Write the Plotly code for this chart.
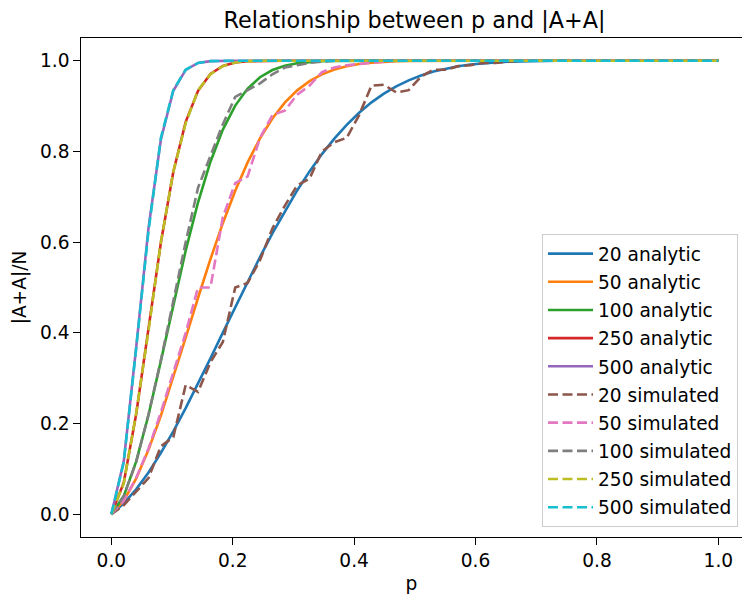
import numpy as np
import plotly.graph_objects as go

# sampling grid of p (50 evenly spaced samples on [0, 1])
p = np.linspace(0, 1, 50)

# analytic curves |A+A|/N
analytic_20 = [0, 0.0241, 0.0551, 0.0924, 0.1353, 0.1828, 0.2340, 0.2880, 0.3439, 0.4006,
               0.4573, 0.5131, 0.5673, 0.6191, 0.6681, 0.7139, 0.7559, 0.7941, 0.8283, 0.8587,
               0.8852, 0.9081, 0.9274, 0.9435, 0.9567, 0.9675, 0.9761, 0.9827, 0.9878, 0.9916,
               0.9943, 0.9963, 0.9977, 0.9986, 0.9992, 0.9995, 0.9997, 0.9999] + [1.0] * 12
analytic_50 = [0, 0.0302, 0.0784, 0.1421, 0.2178, 0.3015, 0.3893, 0.4774, 0.5625, 0.6418,
               0.7133, 0.7758, 0.8289, 0.8725, 0.9075, 0.9346, 0.9550, 0.9699, 0.9805, 0.9877,
               0.9925, 0.9956, 0.9975, 0.9986, 0.9993, 0.9996, 0.9998] + [1.0] * 23
analytic_100 = [0, 0.0402, 0.1161, 0.2190, 0.3382, 0.4623, 0.5814, 0.6879, 0.7773, 0.8481,
                0.9010, 0.9385, 0.9635, 0.9794, 0.9890, 0.9944, 0.9973, 0.9988, 0.9995,
                0.9998] + [1.0] * 30
analytic_250 = [0, 0.0697, 0.2200, 0.4107, 0.5992, 0.7548, 0.8652, 0.9335, 0.9707, 0.9884,
                0.9959, 0.9987, 0.9996, 0.9999] + [1.0] * 36
analytic_500 = [0, 0.1169, 0.3667, 0.6315, 0.8262, 0.9337, 0.9796, 0.9950, 0.9990,
                0.9999] + [1.0] * 40

# simulated curves
simulated_20 = [0, 0.02, 0.05, 0.08, 0.15, 0.17, 0.285, 0.27, 0.335, 0.38,
                0.50, 0.51, 0.56, 0.63, 0.68, 0.725, 0.74, 0.80, 0.82, 0.83,
                0.88, 0.945, 0.947, 0.93, 0.935, 0.965, 0.98, 0.98, 0.988, 0.99,
                0.995, 0.995, 0.998] + [1.0] * 17
simulated_50 = [0, 0.03, 0.08, 0.145, 0.225, 0.315, 0.40, 0.50, 0.50, 0.655,
                0.73, 0.745, 0.83, 0.88, 0.89, 0.925, 0.945, 0.975, 0.985, 0.99,
                0.993, 0.996, 0.998] + [1.0] * 27
simulated_100 = [0, 0.04, 0.115, 0.22, 0.34, 0.47, 0.60, 0.72, 0.79, 0.86,
                 0.92, 0.935, 0.95, 0.97, 0.985, 0.99, 0.995, 0.998] + [1.0] * 32
simulated_250 = [0, 0.068, 0.222, 0.405, 0.60, 0.755, 0.862, 0.935, 0.97, 0.988,
                 0.996, 0.999] + [1.0] * 38
simulated_500 = [0, 0.115, 0.365, 0.625, 0.83, 0.935, 0.98, 0.995, 0.999] + [1.0] * 41

series = [
    ("20 analytic", analytic_20, "#1f77b4", "solid"),
    ("50 analytic", analytic_50, "#ff7f0e", "solid"),
    ("100 analytic", analytic_100, "#2ca02c", "solid"),
    ("250 analytic", analytic_250, "#d62728", "solid"),
    ("500 analytic", analytic_500, "#9467bd", "solid"),
    ("20 simulated", simulated_20, "#8c564b", "10px,4.5px"),
    ("50 simulated", simulated_50, "#e377c2", "10px,4.5px"),
    ("100 simulated", simulated_100, "#7f7f7f", "10px,4.5px"),
    ("250 simulated", simulated_250, "#bcbd22", "10px,4.5px"),
    ("500 simulated", simulated_500, "#17becf", "10px,4.5px"),
]

fig = go.Figure()
for name, yv, color, dash in series:
    fig.add_trace(go.Scatter(
        x=p, y=yv, mode="lines", name=name, legendgroup=name,
        line=dict(color=color, width=2.6, dash=dash),
    ))

FONT = "DejaVu Sans"
W, H = 742, 594
L, T, B = 81, 38, 57
px_per_unit = 607.0
x_right = -0.05 + (W - L) / px_per_unit

axis_common = dict(
    showgrid=False, zeroline=False, showline=True, linecolor="black", linewidth=1.4,
    ticks="outside", ticklen=6.5, tickwidth=1.4, tickcolor="black",
    tickfont=dict(family=FONT, size=18.6, color="black"),
    tickformat=".1f", dtick=0.2, tick0=0,
)

fig.update_layout(
    width=W, height=H,
    margin=dict(l=L, r=0, t=T, b=B, pad=0),
    paper_bgcolor="white", plot_bgcolor="white",
    font=dict(family=FONT, color="black"),
    title=dict(text="Relationship between p and |A+A|", font=dict(family=FONT, size=22.3, color="black"),
               xref="container", x=414.5 / W, xanchor="center",
               yref="container", y=1 - 20 / H, yanchor="middle"),
    xaxis=dict(range=[-0.05, x_right], mirror=True,
               title=dict(text="p", font=dict(family=FONT, size=18.6, color="black"), standoff=6),
               **axis_common),
    yaxis=dict(range=[-0.05, 1.05], mirror=False,
               title=dict(text="|A+A|/N", font=dict(family=FONT, size=18.6, color="black"), standoff=8),
               **axis_common),
    showlegend=True,
    legend=dict(
        x=(738 - L) / (W - L), xanchor="right", y=(537 - 527) / 499.0, yanchor="bottom",
        bgcolor="rgba(255,255,255,0.8)", bordercolor="#cccccc", borderwidth=1,
        font=dict(family=FONT, size=18.6, color="black"),
        traceorder="grouped", tracegroupgap=1, itemwidth=45,
    ),
)

fig.write_html("out.html")
